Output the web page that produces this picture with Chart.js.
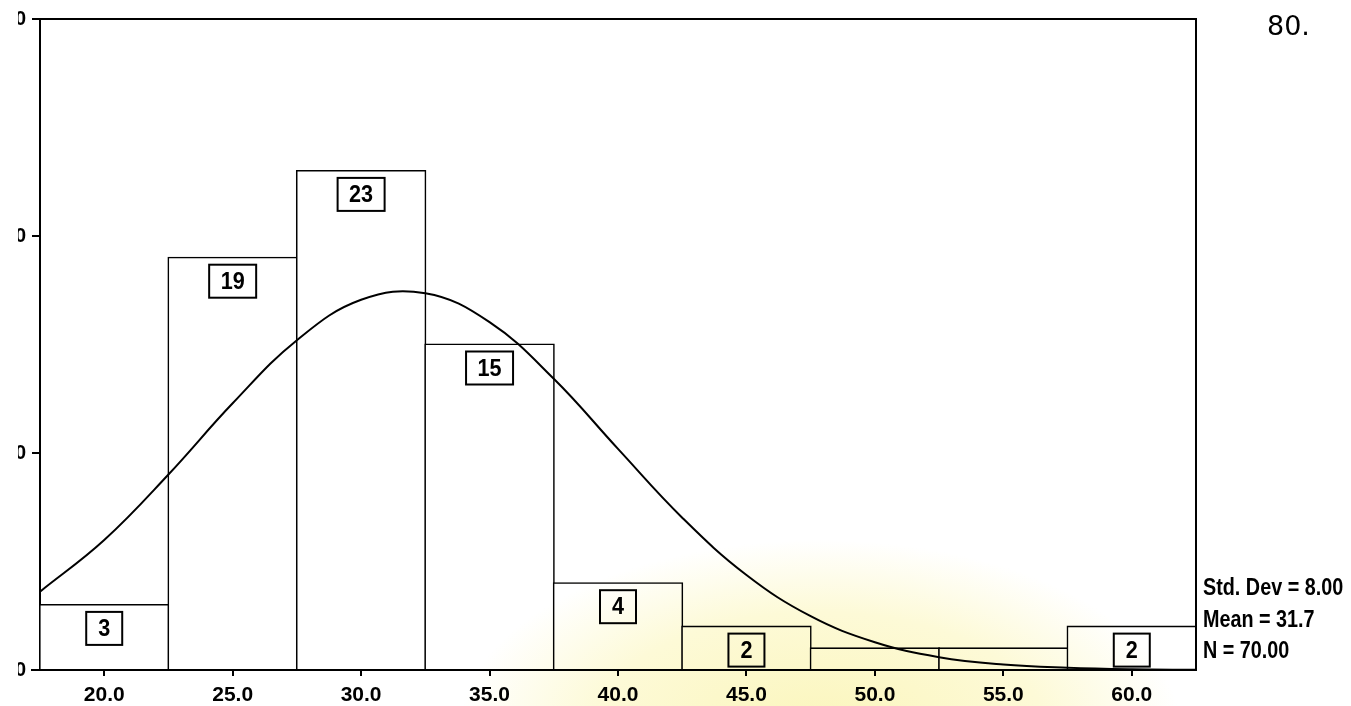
<!DOCTYPE html>
<html>
<head>
<meta charset="utf-8">
<script src="https://cdn.jsdelivr.net/npm/chart.js@4.4.1/dist/chart.umd.min.js"></script>
<style>
  html, body { margin: 0; padding: 0; background: #fff; }
  #wrap { width: 1351px; height: 706px; }
</style>
</head>
<body>
<div id="wrap"><canvas id="hist" width="1351" height="706"></canvas></div>
<script>
// bin midpoints and counts
const binMids = [20, 25, 30, 35, 40, 45, 50, 55, 60];
const counts = [3, 19, 23, 15, 4, 2, 1, 1, 2];
const xTicks = [20, 25, 30, 35, 40, 45, 50, 55, 60];
const yTicks = [0, 10, 20, 30];

// normal curve
const curveX = [17.5, 20, 22.5, 25, 27.5, 30, 32.5, 35, 37.5, 40, 42.5, 45, 47.5, 50, 52.5, 55, 57.5, 60, 62.5];
const curveY = [3.61, 5.99, 9.01, 12.29, 15.20, 17.06, 17.36, 16.03, 13.42, 10.19, 7.02, 4.38, 2.48, 1.28, 0.59, 0.25, 0.10, 0.03, 0.01];

const statLines = ['Std. Dev = 8.00', 'Mean = 31.7', 'N = 70.00'];
const pageNo = '80.';

const framePlugin = {
    id: 'frame',
    beforeDraw(chart) {
        const ctx = chart.ctx;
        ctx.save();
        ctx.fillStyle = '#fff';
        ctx.fillRect(0, 0, chart.width, chart.height);
        ctx.restore();
    },
    afterDatasetsDraw(chart) {
        const ctx = chart.ctx;
        const area = chart.chartArea;
        const meta = chart.getDatasetMeta(0);

        // boxed counts inside the bars
        ctx.save();
        ctx.font = 'bold 24px "Liberation Sans", Arial, sans-serif';
        ctx.textAlign = 'center';
        ctx.textBaseline = 'middle';
        ctx.lineWidth = 2;
        ctx.strokeStyle = '#000';
        meta.data.forEach(function (bar, i) {
            if (bar.base - bar.y < 40) return;
            const label = String(counts[i]);
            const w = label.length > 1 ? 47 : 36;
            const h = 33;
            const top = bar.y + 7;
            ctx.fillStyle = '#fff';
            ctx.fillRect(bar.x - w / 2, top, w, h);
            ctx.strokeRect(bar.x - w / 2, top, w, h);
            ctx.fillStyle = '#000';
            ctx.save();
            ctx.translate(bar.x, top + h / 2 + 1);
            ctx.scale(0.9, 1);
            ctx.fillText(label, 0, 0);
            ctx.restore();
        });
        ctx.restore();

        // top and right edges of the frame, baseline stub on the left
        ctx.save();
        ctx.strokeStyle = '#000';
        ctx.lineWidth = 2;
        ctx.beginPath();
        ctx.moveTo(area.left, area.top);
        ctx.lineTo(area.right, area.top);
        ctx.lineTo(area.right, area.bottom);
        ctx.moveTo(31, area.bottom);
        ctx.lineTo(area.left, area.bottom);
        ctx.stroke();
        ctx.restore();
    },
    afterDraw(chart) {
        const ctx = chart.ctx;
        const area = chart.chartArea;
        ctx.save();
        // the y labels are cut at the page edge
        ctx.fillStyle = '#fff';
        ctx.fillRect(0, 0, 18, chart.height);

        ctx.fillStyle = '#000';
        ctx.font = 'bold 23px "Liberation Sans", Arial, sans-serif';
        ctx.textAlign = 'left';
        ctx.textBaseline = 'alphabetic';
        statLines.forEach(function (t, i) {
            ctx.save();
            ctx.translate(area.right + 7, 595 + i * 31.5);
            ctx.scale(0.86, 1);
            ctx.fillText(t, 0, 0);
            ctx.restore();
        });

        ctx.font = '27px "DejaVu Sans", sans-serif';
        ctx.fillText(pageNo, 1267, 35);

        // faint yellow stain of the scan
        ctx.globalCompositeOperation = 'multiply';
        ctx.translate(820, 730);
        ctx.scale(1.9, 1);
        const g = ctx.createRadialGradient(0, 0, 10, 0, 0, 190);
        g.addColorStop(0, 'rgb(251,246,190)');
        g.addColorStop(0.6, 'rgb(253,250,215)');
        g.addColorStop(1, 'rgb(255,255,255)');
        ctx.fillStyle = g;
        ctx.fillRect(-200, -200, 400, 200);
        ctx.restore();
    }
};

new Chart(document.getElementById('hist'), {
    data: {
        datasets: [{
            type: 'bar',
            data: binMids.map((x, i) => ({ x: x, y: counts[i] })),
            backgroundColor: '#fff',
            borderColor: '#000',
            borderWidth: 1.6,
            inflateAmount: 1,
            barPercentage: 1,
            categoryPercentage: 1,
            order: 2,
        }, {
            type: 'line',
            data: curveX.map((x, i) => ({ x: x, y: curveY[i] })),
            borderColor: '#000',
            borderWidth: 2,
            pointRadius: 0,
            tension: 0.4,
            fill: false,
            order: 1,
        }],
    },
    options: {
        responsive: false,
        animation: false,
        devicePixelRatio: 1,
        layout: { padding: { top: 19, right: 155, left: 0, bottom: 0 } },
        plugins: {
            legend: { display: false },
            tooltip: { enabled: false },
        },
        scales: {
            x: {
                type: 'linear',
                min: 17.5,
                max: 62.5,
                offset: false,
                afterFit: function (s) { s.height = 36; },
                afterBuildTicks: function (s) { s.ticks = xTicks.map(v => ({ value: v })); },
                grid: { drawOnChartArea: false, offset: false, tickLength: 6, color: '#000', lineWidth: 2 },
                border: { color: '#000', width: 2 },
                ticks: {
                    color: '#000',
                    font: { family: '"Liberation Sans", Arial, sans-serif', size: 21, weight: 'bold' },
                    padding: 7,
                    maxRotation: 0,
                    callback: v => v.toFixed(1),
                },
            },
            y: {
                min: 0,
                max: 30,
                afterFit: function (s) { s.width = 40; },
                afterBuildTicks: function (s) { s.ticks = yTicks.map(v => ({ value: v })); },
                grid: { drawOnChartArea: false, tickLength: 8, color: '#000', lineWidth: 2 },
                border: { color: '#000', width: 2 },
                ticks: {
                    color: '#000',
                    font: { family: '"Liberation Sans", Arial, sans-serif', size: 20, weight: 'bold' },
                    padding: 6,
                },
            },
        },
    },
    plugins: [framePlugin],
});
</script>
</body>
</html>
